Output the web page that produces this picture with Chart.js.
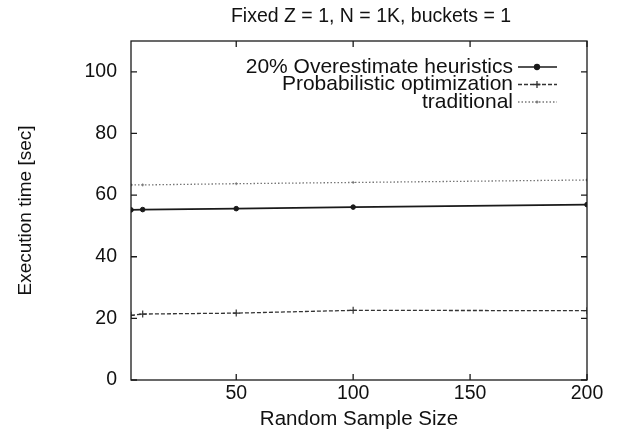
<!DOCTYPE html>
<html>
<head>
<meta charset="utf-8">
<script src="https://cdn.jsdelivr.net/npm/chart.js@4.4.1/dist/chart.umd.min.js"></script>
<style>
html, body { margin: 0; padding: 0; background: #fff; }
#cont { width: 621px; height: 435px; }
</style>
</head>
<body>
<div id="cont"><canvas id="grafico" width="621" height="435"></canvas></div>
<script>
// dados
var tamanhos = [5, 10, 50, 100, 200];
var heuristica = [55.2, 55.3, 55.6, 56.1, 56.9];
var probabilistica = [21.0, 21.4, 21.7, 22.6, 22.5];
var tradicional = [63.3, 63.3, 63.7, 64.1, 64.9];
var ticksX = [50, 100, 150, 200];
var ticksY = [0, 20, 40, 60, 80, 100];
var nomes = ['20% Overestimate heuristics', 'Probabilistic optimization', 'traditional'];
var titulo = 'Fixed Z = 1, N = 1K, buckets = 1';
var fonte = '"Liberation Sans", Arial, Helvetica, sans-serif';

function pontos(valores) {
	var lista = [];
	for (var i = 0; i < tamanhos.length; i++) {
		lista.push({x: tamanhos[i], y: valores[i]});
	}
	return lista;
}

// moldura, ticks para dentro, titulo e legenda estilo gnuplot
var estiloGnuplot = {
	id: 'estiloGnuplot',
	afterDatasetsDraw: function (chart) {
		var ctx = chart.ctx;
		var area = chart.chartArea;
		var sx = chart.scales.x;
		var sy = chart.scales.y;
		var t = 6;
		ctx.save();
		ctx.strokeStyle = '#1a1a1a';
		ctx.lineWidth = 1.3;
		ctx.strokeRect(area.left, area.top, area.right - area.left, area.bottom - area.top);
		ctx.beginPath();
		for (var i = 0; i < ticksX.length; i++) {
			var px = sx.getPixelForValue(ticksX[i]);
			ctx.moveTo(px, area.bottom); ctx.lineTo(px, area.bottom - t);
			ctx.moveTo(px, area.top); ctx.lineTo(px, area.top + t);
		}
		for (var j = 0; j < ticksY.length; j++) {
			var py = sy.getPixelForValue(ticksY[j]);
			ctx.moveTo(area.left, py); ctx.lineTo(area.left + t, py);
			ctx.moveTo(area.right, py); ctx.lineTo(area.right - t, py);
		}
		ctx.stroke();

		// titulo
		ctx.fillStyle = '#111';
		ctx.font = '19.5px ' + fonte;
		ctx.textAlign = 'center';
		ctx.textBaseline = 'middle';
		ctx.fillText(titulo, (area.left + area.right) / 2 + 12, 17);

		// legenda
		ctx.font = '21px ' + fonte;
		ctx.textAlign = 'right';
		for (var k = 0; k < chart.data.datasets.length; k++) {
			var ds = chart.data.datasets[k];
			var ly = area.top + 26 + k * 17.5;
			var tx = area.right - 74;
			ctx.fillStyle = '#111';
			ctx.fillText(ds.label, tx, ly);
			ctx.beginPath();
			ctx.setLineDash(ds.borderDash || []);
			ctx.strokeStyle = ds.borderColor;
			ctx.lineWidth = ds.borderWidth;
			ctx.moveTo(tx + 5, ly); ctx.lineTo(tx + 44, ly);
			ctx.stroke();
			ctx.setLineDash([]);
			ctx.fillStyle = ds.borderColor;
			Chart.helpers.drawPoint(ctx, {
				pointStyle: ds.pointStyle,
				radius: ds.pointRadius,
				borderWidth: 1.2,
				rotation: 0
			}, tx + 24, ly);
		}
		ctx.restore();
	}
};

var ctx = document.getElementById('grafico').getContext('2d');
var grafico = new Chart(ctx, {
	type: 'line',
	data: {
		datasets: [{
			label: nomes[0],
			data: pontos(heuristica),
			borderColor: '#1a1a1a',
			backgroundColor: '#1a1a1a',
			borderWidth: 1.7,
			pointStyle: 'circle',
			pointRadius: 2.3,
			pointBorderWidth: 1,
			tension: 0
		}, {
			label: nomes[1],
			data: pontos(probabilistica),
			borderColor: '#333',
			backgroundColor: '#333',
			borderWidth: 1.3,
			borderDash: [4, 2],
			pointStyle: 'cross',
			pointRadius: 3.5,
			pointBorderWidth: 1.2,
			tension: 0
		}, {
			label: nomes[2],
			data: pontos(tradicional),
			borderColor: '#777',
			backgroundColor: '#777',
			borderWidth: 1.3,
			borderDash: [1.5, 2],
			pointStyle: 'cross',
			pointRadius: 1.5,
			pointBorderWidth: 1,
			tension: 0
		}]
	},
	options: {
		responsive: false,
		animation: false,
		devicePixelRatio: 1,
		layout: { padding: { top: 41, right: 34, left: 0, bottom: 0 } },
		plugins: {
			legend: { display: false },
			title: { display: false },
			tooltip: { enabled: false }
		},
		scales: {
			x: {
				type: 'linear',
				min: 5,
				max: 200,
				afterBuildTicks: function (scale) {
					scale.ticks = ticksX.map(function (v) { return {value: v}; });
				},
				afterFit: function (scale) { scale.height = 55; },
				grid: { display: false, drawTicks: false },
				border: { display: false },
				ticks: { color: '#111', padding: 2, maxRotation: 0, font: { family: fonte, size: 19.5 } },
				title: { display: true, text: 'Random Sample Size', color: '#111', padding: { top: 0, bottom: 3 }, font: { family: fonte, size: 20.5 } }
			},
			y: {
				min: 0,
				max: 110,
				afterBuildTicks: function (scale) {
					scale.ticks = ticksY.map(function (v) { return {value: v}; });
				},
				afterFit: function (scale) { scale.width = 131; },
				grid: { display: false, drawTicks: false },
				border: { display: false },
				ticks: { color: '#111', padding: 14, font: { family: fonte, size: 19.5 } },
				title: { display: true, text: 'Execution time [sec]', color: '#111', padding: { top: 14, bottom: 0 }, font: { family: fonte, size: 19 } }
			}
		}
	},
	plugins: [estiloGnuplot]
});
</script>
</body>
</html>
